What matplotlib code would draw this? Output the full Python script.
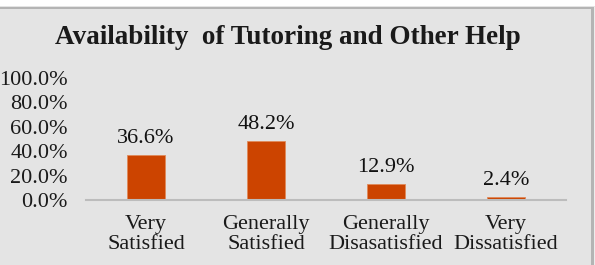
import matplotlib
matplotlib.use("Agg")
import matplotlib.pyplot as plt
from matplotlib.patches import Rectangle

categories = ["Very\nSatisfied", "Generally\nSatisfied", "Generally\nDisasatisfied", "Very\nDissatisfied"]
values = [36.6, 48.2, 12.9, 2.4]
value_labels = ["36.6%", "48.2%", "12.9%", "2.4%"]
yticks = [0, 20, 40, 60, 80, 100]
ytick_labels = ["0.0%", "20.0%", "40.0%", "60.0%", "80.0%", "100.0%"]
title = "Availability  of Tutoring and Other Help"

W, H = 595, 265
bg = "#e4e4e4"
fig = plt.figure(figsize=(W / 100, H / 100), dpi=100, facecolor=bg)
plt.rcParams['font.family'] = ['Liberation Serif', 'DejaVu Serif']

# frame decorations
fig.patches.append(Rectangle((0, (H - 6) / H), 1, 6 / H, transform=fig.transFigure,
                             facecolor="white", edgecolor="none", zorder=0))
fig.patches.append(Rectangle((0, (H - 9) / H), 1, 2.5 / H, transform=fig.transFigure,
                             facecolor="#b4b4b4", edgecolor="none", zorder=0))
fig.patches.append(Rectangle((591 / W, 0), 2.5 / W, (H - 7) / H, transform=fig.transFigure,
                             facecolor="#b4b4b4", edgecolor="none", zorder=0))
fig.patches.append(Rectangle((593.5 / W, 0), 1.5 / W, (H - 7) / H, transform=fig.transFigure,
                             facecolor="#ececec", edgecolor="none", zorder=0))

fs = 16
ax = fig.add_axes([86 / W, (H - 200) / H, 480 / W, 122 / H])
ax.set_facecolor(bg)
x = list(range(len(values)))
ax.bar(x, values, width=0.31, color="#cc4400", edgecolor="#e08a5a", linewidth=0.6, zorder=2)
ax.set_xlim(-0.5, 3.5)
ax.set_ylim(0, 100)
ax.set_yticks(yticks)
ax.set_yticklabels(ytick_labels, fontsize=fs)
ax.set_xticks(x)
ax.set_xticklabels(categories, fontsize=fs, linespacing=1.12)
for s in ["top", "right", "left"]:
    ax.spines[s].set_visible(False)
ax.spines["bottom"].set_color("#bcbcbc")
ax.spines["bottom"].set_linewidth(1.5)
ax.tick_params(axis="both", length=0, colors="#1a1a1a")
ax.tick_params(axis="y", pad=13)
ax.tick_params(axis="x", pad=10.5)

for xi, v, lab in zip(x, values, value_labels):
    ax.annotate(lab, (xi, v), xytext=(0, 12), textcoords="offset points",
                ha="center", va="center", fontsize=fs, color="#111111")

fig.text(288 / W, 1 - 38 / H, title, ha="center", va="center", fontsize=19.5,
         fontweight="bold", color="#1a1a1a")

fig.savefig("out.png", dpi=100, facecolor=bg)
